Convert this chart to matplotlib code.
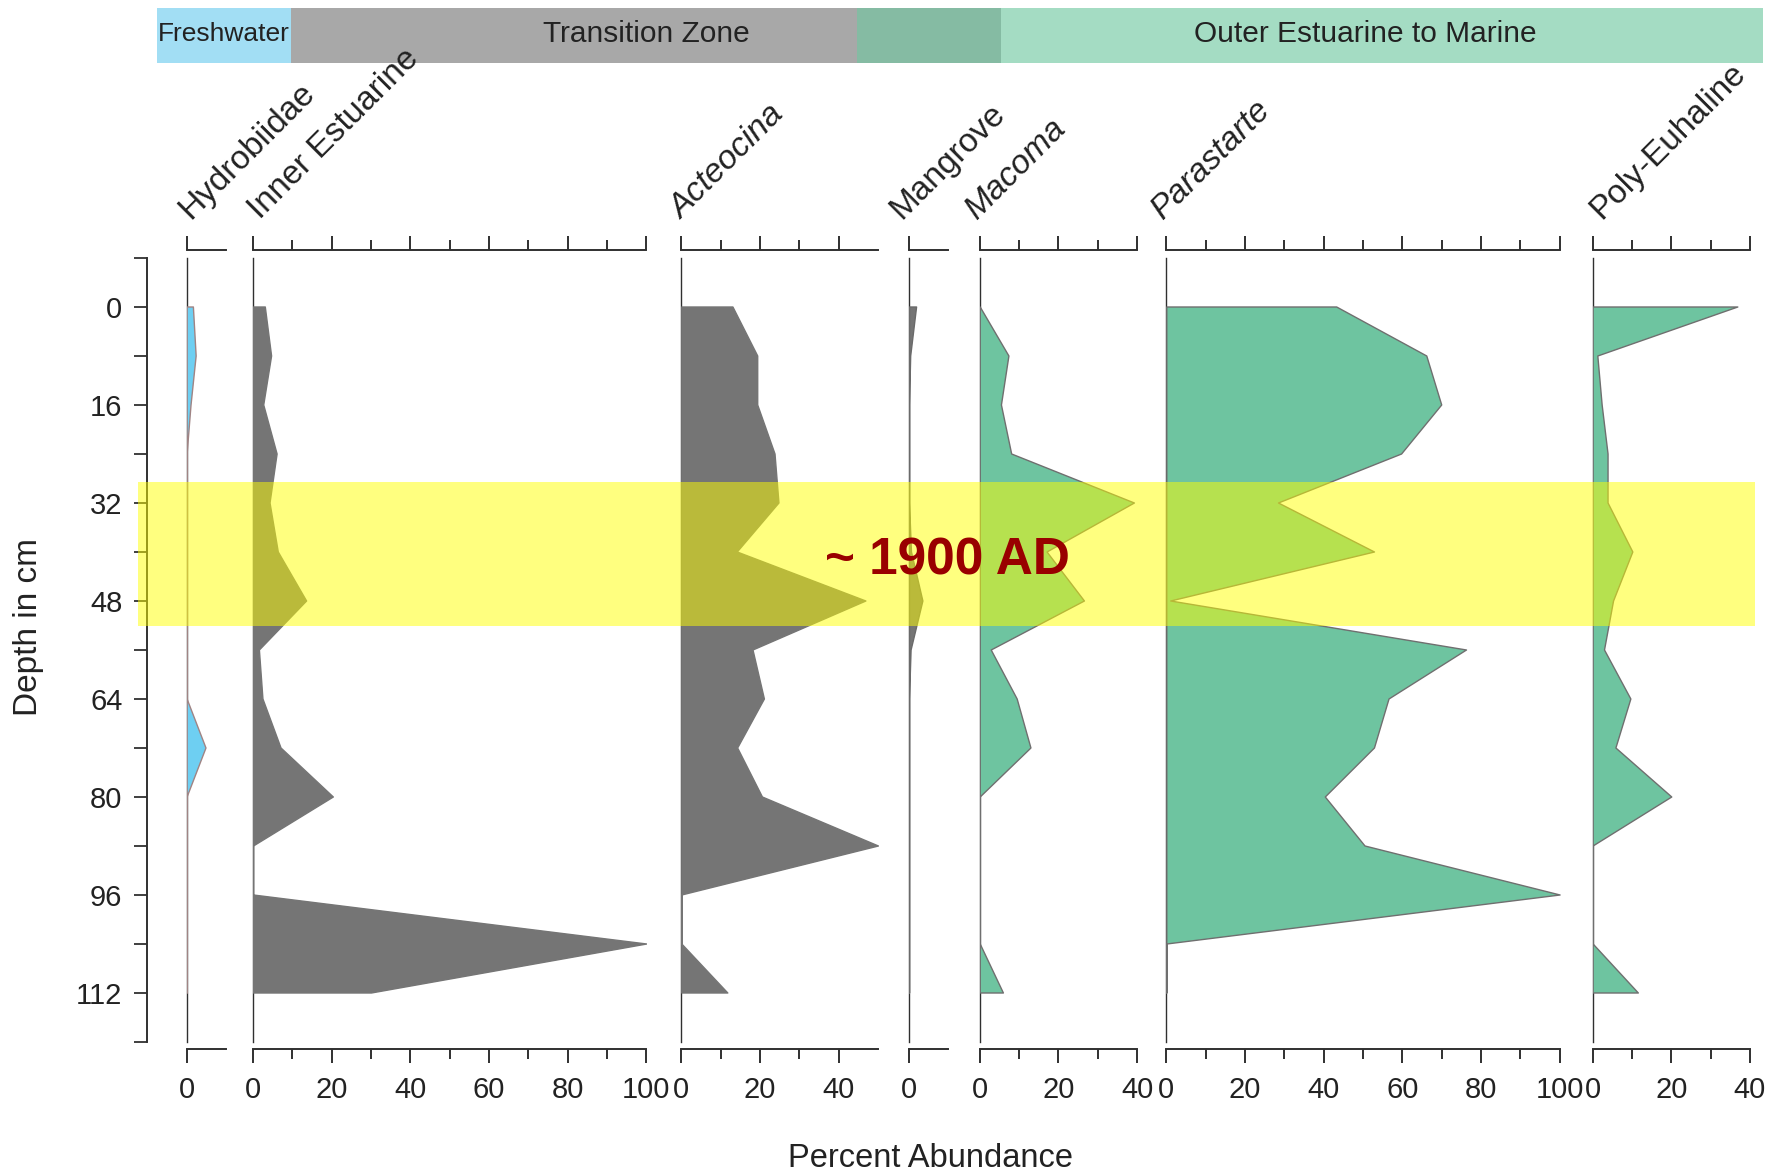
#------------------------------------------------------------------
# Import as ...
#
import matplotlib
matplotlib.use( 'Agg' )
from matplotlib import pyplot as plt
from matplotlib.patches import Rectangle
from matplotlib.transforms import blended_transform_factory
import numpy as np

plt.rcParams[ 'font.family' ] = [ 'Liberation Sans', 'DejaVu Sans' ]

#------------------------------------------------------------------
# Data (percent abundance per sample depth).
#
depth = [ 0, 8, 16, 24, 32, 40, 48, 56, 64, 72, 80, 88, 96, 104, 112 ]

taxa   = [ 'Hydrobiidae', 'Inner Estuarine', 'Acteocina', 'Mangrove',
           'Macoma', 'Parastarte', 'Poly-Euhaline' ]
italic = [ False, False, True, False, True, True, False ]
x_max  = [ 10, 100, 50, 10, 40, 100, 40 ]

hydrobiidae     = [ 1.6, 2.3, 1.0, 0, 0, 0, 0, 0, 0, 4.8, 0, 0, 0, 0, 0 ]
inner_estuarine = [ 3.0, 4.6, 2.6, 6.0, 4.2, 6.3, 13.5, 1.5, 2.4, 7.0, 20.3, 0, 0, 100, 30 ]
acteocina       = [ 13.0, 19.3, 19.3, 23.7, 24.7, 14.1, 46.8, 18.1, 21.0, 14.2, 20.5, 50, 0, 0, 11.7 ]
mangrove        = [ 1.8, 0.3, 0, 0, 0, 0.5, 3.4, 0.4, 0, 0, 0, 0, 0, 0, 0 ]
macoma          = [ 0, 7.3, 5.4, 8.0, 39.2, 17.0, 26.5, 2.8, 9.4, 12.9, 0, 0, 0, 0, 5.9 ]
parastarte      = [ 43.2, 66.1, 69.9, 59.7, 28.4, 52.8, 1.0, 76.2, 56.5, 52.8, 40.3, 50.4, 100, 0, 0 ]
poly_euhaline   = [ 36.8, 1.2, 2.3, 3.8, 3.8, 10.1, 5.2, 2.9, 9.6, 5.8, 20.0, 0, 0, 0, 11.5 ]

series = [ hydrobiidae, inner_estuarine, acteocina, mangrove, macoma, parastarte, poly_euhaline ]

zone_names = [ 'Freshwater', 'Transition Zone', 'Outer Estuarine to Marine' ]

band_depth = ( 28.7, 52.2 )
band_label = '~ 1900 AD'

#------------------------------------------------------------------
# Layout (pixels of the 1787x1172 output).
#
W, H = 1787, 1172
PX_PER_PCT = 3.933
AX_TOP, AX_BOTTOM = 257.5, 1041.5
DEPTH_AXIS_X = 146.7
panel_left = [ 186.6, 253.0, 681.3, 909.0, 979.7, 1166.3, 1592.6 ]
label_dx   = [ 4, 7, 0, -8, -3, -3, 9 ]

BLUE, GRAY, GREEN = '#6ecff2', '#757575', '#6ec4a0'
fill_color = [ BLUE, GRAY, GRAY, GRAY, GREEN, GREEN, GREEN ]
edge_color = [ '#a08484', GRAY, GRAY, '#6a6a6a', '#6f6f6f', '#6f6f6f', '#6f6f6f' ]

INK = '#222222'
AXIS = '#303030'

def fx( x ):
    return x / W

def fy( y ):
    return 1.0 - y / H

fig = plt.figure( figsize = ( W / 100, H / 100 ), dpi = 100 )

#------------------------------------------------------------------
# Depth axis.
#
ax_d = fig.add_axes( [ fx( DEPTH_AXIS_X ), fy( AX_BOTTOM ), 1.0 / W, ( AX_BOTTOM - AX_TOP ) / H ] )
ax_d.patch.set_visible( False )
for s in [ 'top', 'right', 'bottom' ]:
    ax_d.spines[ s ].set_visible( False )
ax_d.spines[ 'left' ].set_linewidth( 1.4 )
ax_d.spines[ 'left' ].set_color( AXIS )
ax_d.set_ylim( 120, -8 )
ax_d.set_xticks( [] )
ax_d.set_yticks( np.arange( 0, 113, 16 ) )
ax_d.set_yticks( np.arange( -8, 121, 16 ), minor = True )
ax_d.tick_params( axis = 'y', which = 'both', direction = 'out', length = 9.5,
                  width = 1.3, color = AXIS, labelsize = 21, labelcolor = INK, pad = 8 )

#------------------------------------------------------------------
# One panel per taxon.
#
for i, name in enumerate( taxa ):
    x0 = panel_left[ i ]
    ax = fig.add_axes( [ fx( x0 ), fy( AX_BOTTOM ), x_max[ i ] * PX_PER_PCT / W,
                         ( AX_BOTTOM - AX_TOP ) / H ] )
    ax.patch.set_visible( False )
    ax.fill_betweenx( depth, 0, series[ i ], facecolor = fill_color[ i ],
                      edgecolor = edge_color[ i ], linewidth = 1.0, zorder = 3 )
    ax.set_xlim( 0, x_max[ i ] )
    ax.set_ylim( 120, -8 )

    ax.spines[ 'right' ].set_visible( False )
    for s in [ 'top', 'bottom' ]:
        ax.spines[ s ].set_position( ( 'outward', 5.4 ) )
        ax.spines[ s ].set_linewidth( 1.4 )
        ax.spines[ s ].set_color( AXIS )
    ax.spines[ 'left' ].set_linewidth( 1.0 )
    ax.spines[ 'left' ].set_color( AXIS )

    if x_max[ i ] >= 40:
        ax.set_xticks( np.arange( 0, x_max[ i ] + 1, 20 ) )
    else:
        ax.set_xticks( [ 0 ] )
    ax.set_xticks( np.arange( 10, x_max[ i ], 20 ), minor = True )
    ax.set_yticks( [] )
    ax.tick_params( axis = 'x', which = 'major', length = 10, width = 1.4 )
    ax.tick_params( axis = 'x', which = 'minor', length = 7, width = 1.4 )
    ax.tick_params( axis = 'x', which = 'both', direction = 'out', top = True,
                    bottom = True, labeltop = False, labelbottom = True,
                    color = AXIS, labelsize = 21, labelcolor = INK, pad = 9.5 )

    # Rotated taxon label above the panel.
    fig.text( fx( x0 + label_dx[ i ] ), fy( 220 ), name, rotation = 45,
              rotation_mode = 'anchor', ha = 'left', va = 'baseline', fontsize = 24,
              color = INK, style = 'italic' if italic[ i ] else 'normal' )

#------------------------------------------------------------------
# Ecological zones bar at the top.
#
zone_boxes = [ ( 157, 291, '#a2def4' ), ( 291, 857, '#a8a8a8' ),
               ( 857, 1001, '#85bba3' ), ( 1001, 1763, '#a4dcc3' ) ]
for left, right, c in zone_boxes:
    fig.add_artist( Rectangle( ( fx( left ), fy( 63 ) ), ( right - left ) / W, 55 / H,
                               transform = fig.transFigure, facecolor = c,
                               edgecolor = 'none', zorder = 1 ) )

zone_centres = [ 223.5, 646, 1365 ]
zone_sizes = [ 19, 21.5, 21.5 ]
for name, xc, fs in zip( zone_names, zone_centres, zone_sizes ):
    fig.text( fx( xc ), fy( 34 ), name, ha = 'center', va = 'center',
              fontsize = fs, color = INK, zorder = 2 )

#------------------------------------------------------------------
# Highlight band.
#
band_tr = blended_transform_factory( fig.transFigure, ax_d.transData )
fig.add_artist( Rectangle( ( fx( 138 ), band_depth[ 0 ] ), ( 1755 - 138 ) / W,
                           band_depth[ 1 ] - band_depth[ 0 ], transform = band_tr,
                           facecolor = '#ffff00', alpha = 0.5, edgecolor = 'none',
                           zorder = 5 ) )
fig.text( fx( 947 ), 43.8, band_label, transform = band_tr, ha = 'center',
          va = 'baseline', fontsize = 37, fontweight = 'bold', color = '#990000',
          zorder = 6 )

#------------------------------------------------------------------
# Axis titles.
#
fig.text( fx( 930.8 ), fy( 1167 ), 'Percent Abundance', ha = 'center', va = 'baseline',
          fontsize = 23.5, color = INK )
fig.text( fx( 29 ), fy( 627 ), 'Depth in cm', rotation = 90, ha = 'center',
          va = 'center', fontsize = 24, color = INK )

fig.savefig( 'out.png', dpi = 100 )
